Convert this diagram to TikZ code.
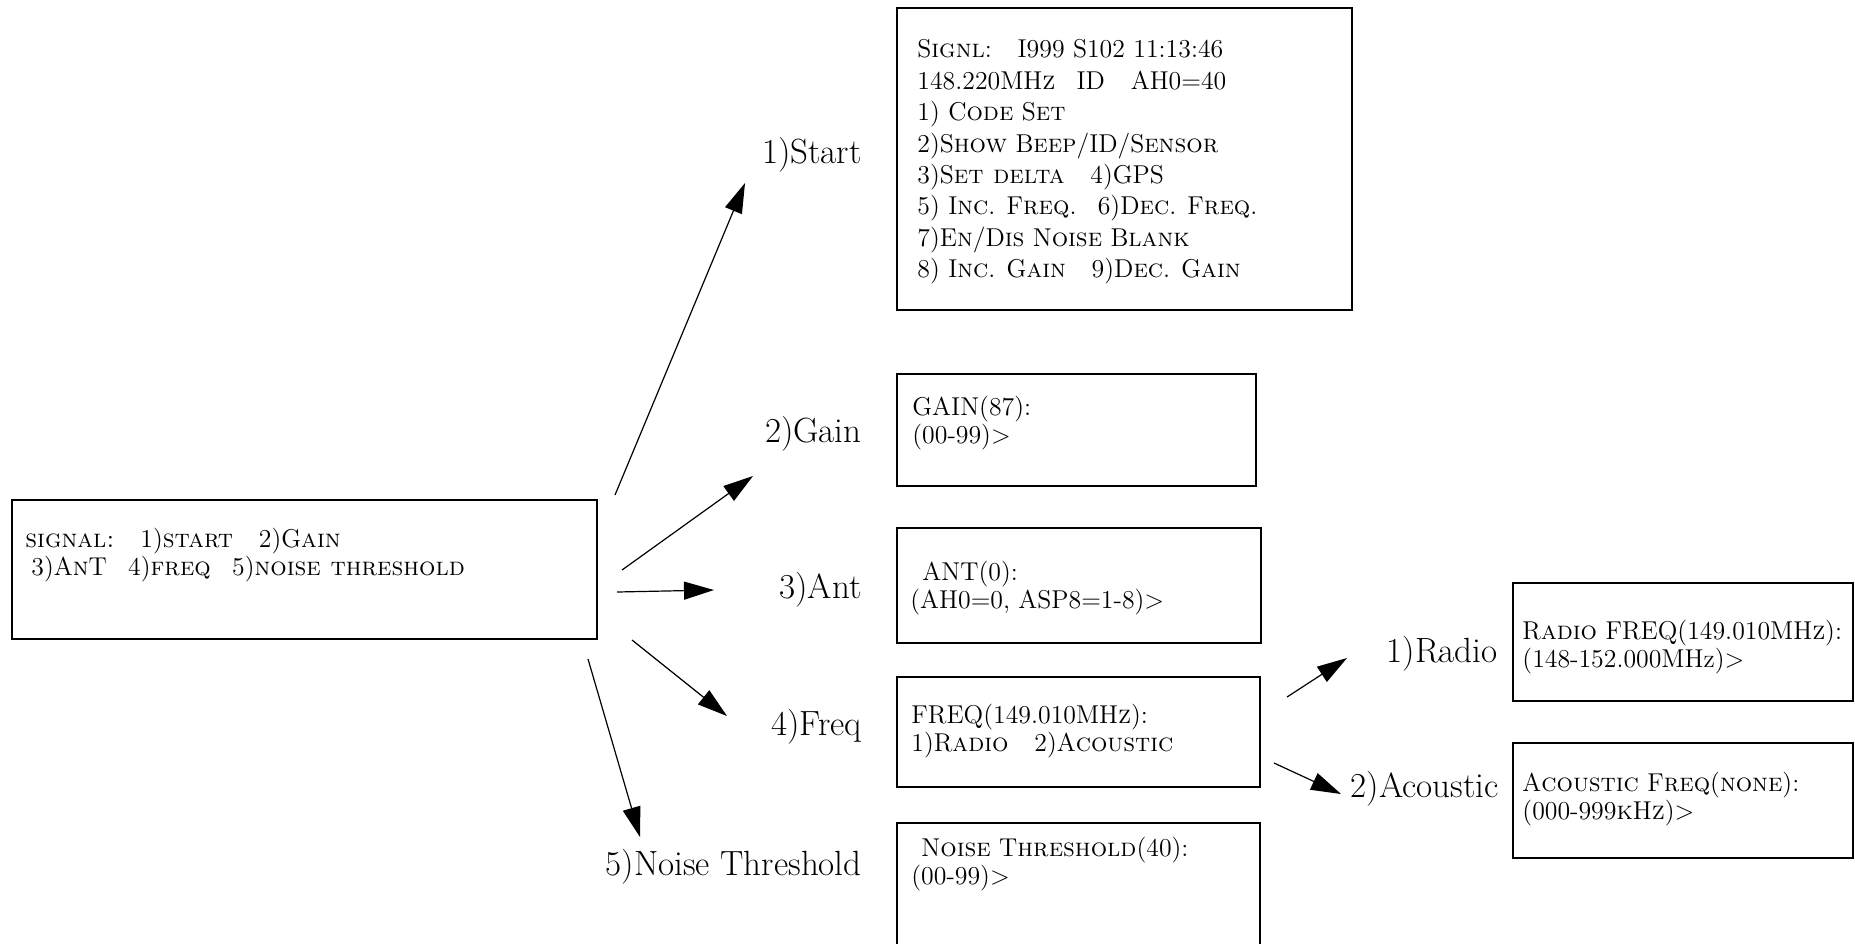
\documentclass[tikz,border=0pt]{standalone}
\usepackage{tikz}
\usetikzlibrary{positioning,arrows.meta,fit}

\begin{document}
\begin{tikzpicture}[
  x=0.5pt,y=-0.5pt,
  screen/.style={draw,line width=1.2pt,inner sep=0pt},
  scr/.style={font=\fontsize{12.9}{13.8}\selectfont,align=left,inner sep=0pt,anchor=west},
  lbl/.style={font=\fontsize{17.5}{20}\selectfont,inner sep=0pt,anchor=base east},
  arr/.style={line width=0.6pt,-{Triangle[length=15pt,width=9pt]}},
]
\useasboundingbox (0,0) rectangle (1855,943);

% screen boxes
\node[screen,fit={(12,500) (597,639)}] (menu) {};
\node[screen,fit={(897,8) (1352,310)}] (startbox) {};
\node[screen,fit={(897,374) (1256,486)}] (gainbox) {};
\node[screen,fit={(897,528) (1261,643)}] (antbox) {};
\node[screen,fit={(897,677) (1260,787)}] (freqbox) {};
\node[screen,fit={(897,823) (1260,948)}] (noisebox) {};
\node[screen,fit={(1513,583) (1853,701)}] (radiobox) {};
\node[screen,fit={(1513,743) (1853,858)}] (acoustbox) {};

% screen texts
\node[scr,font=\fontsize{12.9}{12.8}\selectfont] (menutxt) at (25,555)
  {\textsc{signal:}\quad 1)\textsc{start}\quad 2)G\textsc{ain}\\
   \hspace{3pt}3)A\textsc{n}T\enspace\ 4)\textsc{freq}\enspace\ 5)\textsc{noise threshold}};
\node[scr,font=\fontsize{12.9}{15.7}\selectfont] (starttxt) at (917,162)
  {S\textsc{ignl}:\quad I999 S102 11:13:46\\
   148.220MH\textsc{z}\enspace\ ID\quad AH0=40\\
   1) C\textsc{ode} S\textsc{et}\\
   2)S\textsc{how} B\textsc{eep}/ID/S\textsc{ensor}\\
   3)S\textsc{et delta}\quad 4)GPS\\
   5) I\textsc{nc}. F\textsc{req}.\enspace\ 6)D\textsc{ec}. F\textsc{req}.\\
   7)E\textsc{n}/D\textsc{is} N\textsc{oise} B\textsc{lank}\\
   8) I\textsc{nc}. G\textsc{ain}\quad 9)D\textsc{ec}. G\textsc{ain}};
\node[scr] (gaintxt) at (912,423) {GAIN(87):\\(00-99)>};
\node[scr] (anttxt) at (910,588) {\hspace{6pt}ANT(0):\\(AH0=0, ASP8=1-8)>};
\node[scr] (freqtxt) at (911,731) {FREQ(149.010MH\textsc{z}):\\1)R\textsc{adio}\quad 2)A\textsc{coustic}};
\node[scr] (noisetxt) at (911,864) {\hspace{5pt}N\textsc{oise} T\textsc{hreshold}(40):\\(00-99)>};
\node[scr] (radiotxt) at (1522,647) {R\textsc{adio} FREQ(149.010MH\textsc{z}):\\(148-152.000MHz)>};
\node[scr] (acousttxt) at (1522,799) {A\textsc{coustic} F\textsc{req}(\textsc{none}):\\(000-999\textsc{k}H\textsc{z})>};

% menu choices
\node[lbl] (lstart) at (862,163) {1)Start};
\node[lbl] (lgain) at (862,442) {2)Gain};
\node[lbl] (lant) at (862,598) {3)Ant};
\node[lbl] (lfreq) at (862,735) {4)Freq};
\node[lbl] (lnoise) at (862,875) {5)Noise Threshold};
\node[lbl] (lradio) at (1498,662) {1)Radio};
\node[lbl] (lacoust) at (1499,797) {2)Acoustic};

% arrow ends
\coordinate (t1) at (615,495); \coordinate (h1) at (745,183);
\coordinate (t2) at (622,570); \coordinate (h2) at (753,476);
\coordinate (t3) at (617,592); \coordinate (h3) at (714,590);
\coordinate (t4) at (632,640); \coordinate (h4) at (727,716);
\coordinate (t5) at (588,659); \coordinate (h5) at (640,837);
\coordinate (t6) at (1287,697); \coordinate (h6) at (1347,658);
\coordinate (t7) at (1274,763); \coordinate (h7) at (1341,794);

\foreach \i in {1,...,7}
  \draw[arr] (t\i) -- (h\i);
\end{tikzpicture}
\end{document}
